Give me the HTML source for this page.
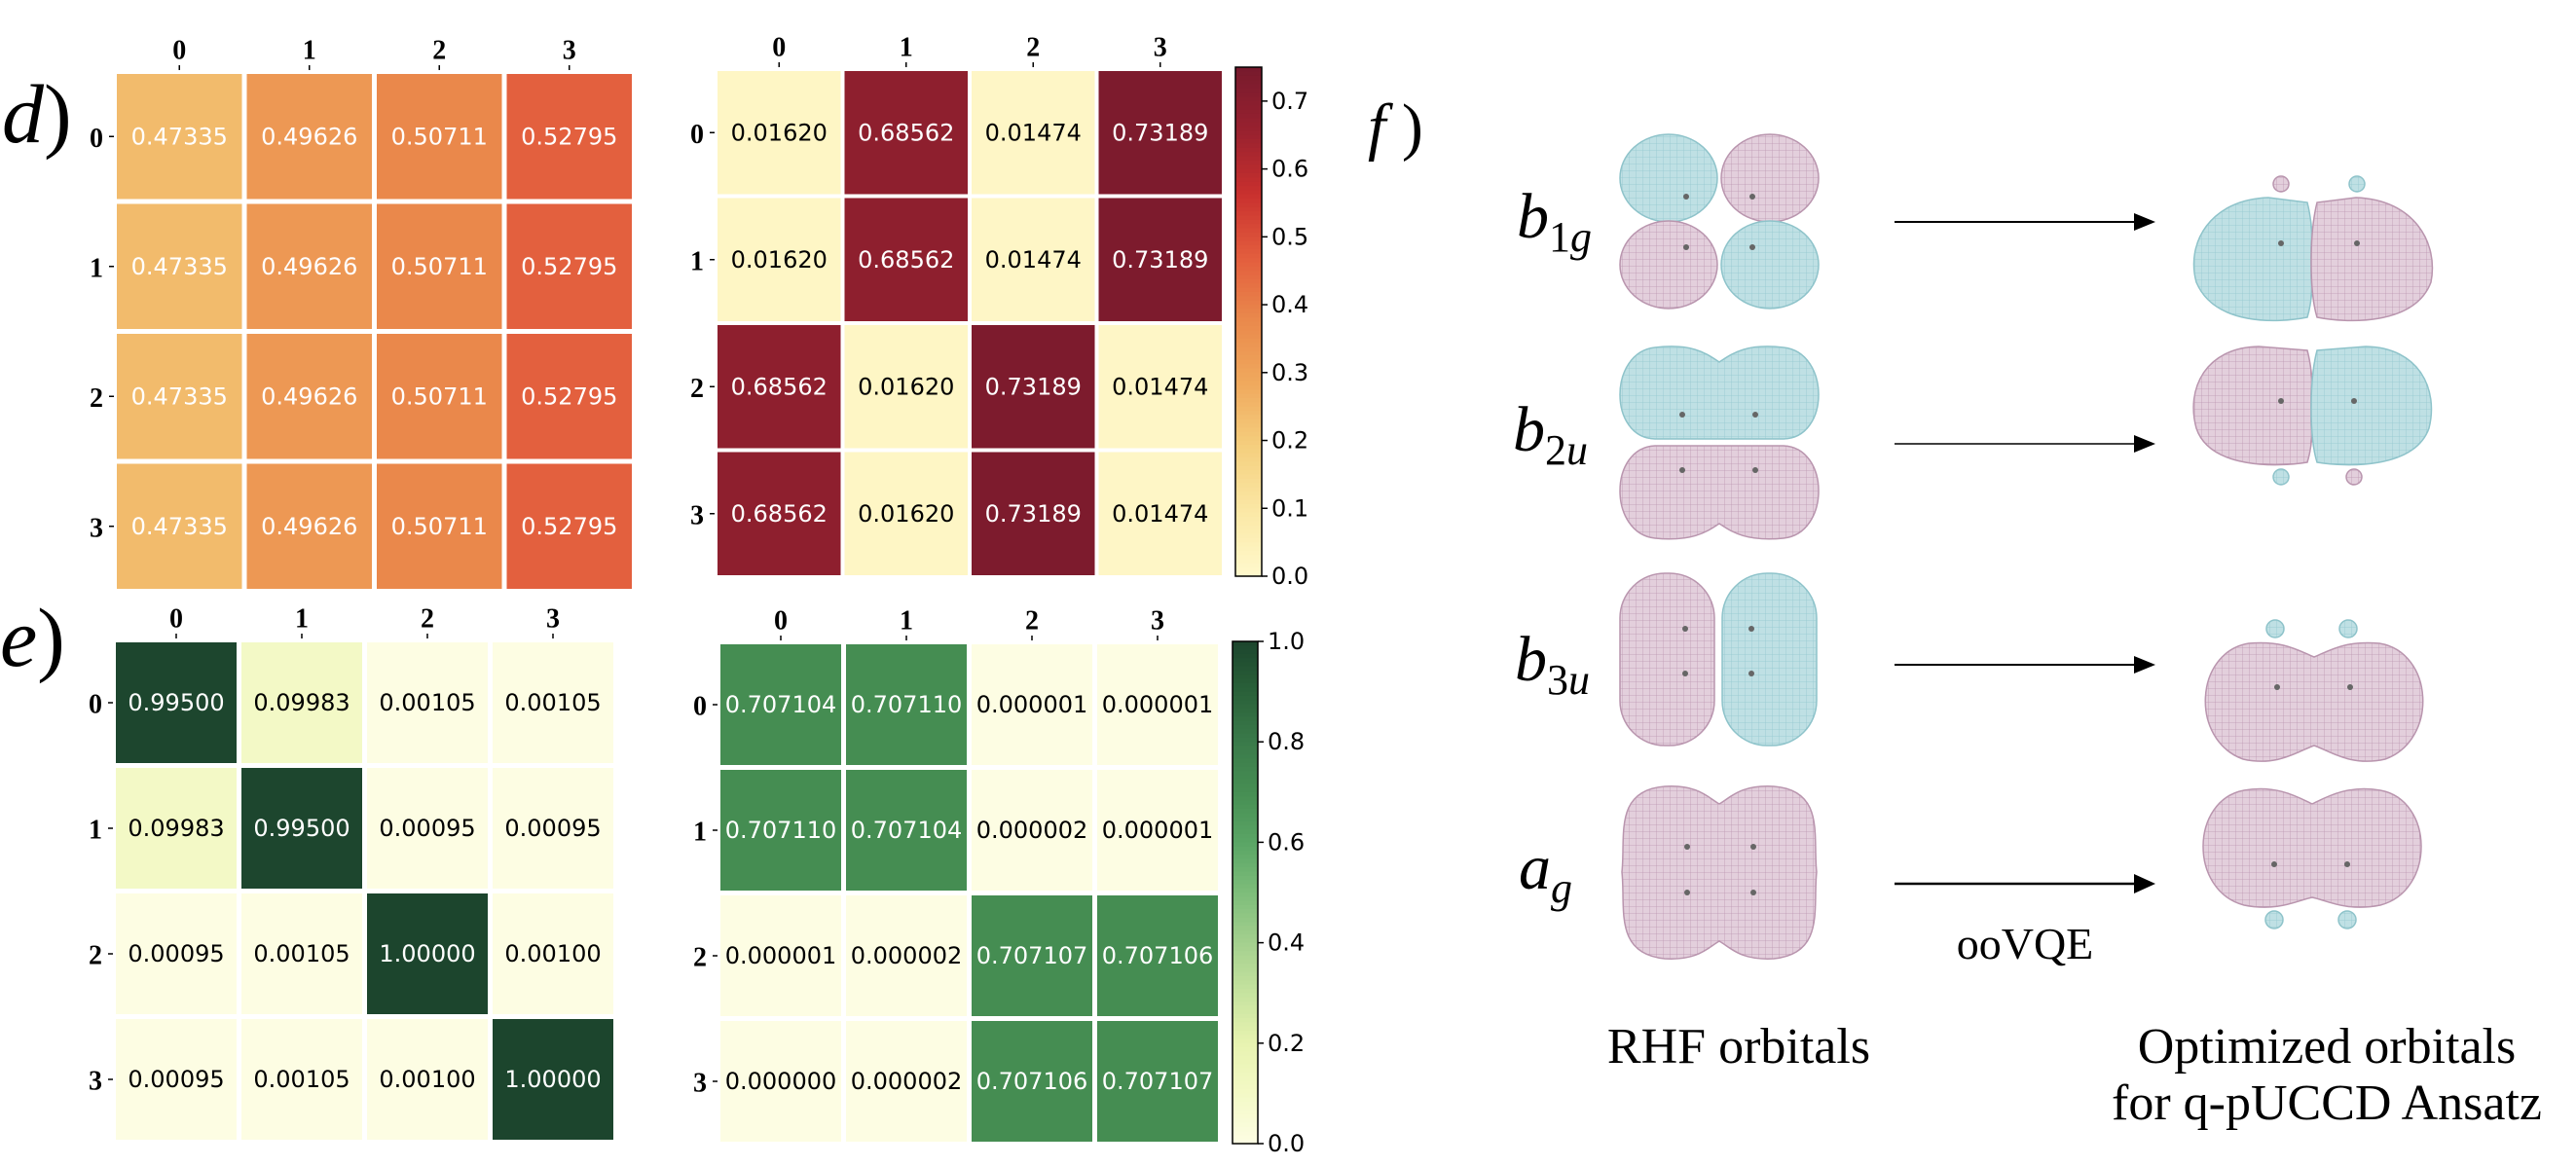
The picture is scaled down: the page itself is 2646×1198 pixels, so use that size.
<!DOCTYPE html>
<html><head><meta charset="utf-8"><style>
html,body{margin:0;padding:0;background:#fff;width:2646px;height:1198px;overflow:hidden}
svg{display:block}
.cell-t{font-family:"DejaVu Sans","Liberation Sans",sans-serif;font-size:24px;text-anchor:middle;dominant-baseline:central}
.axl{font-family:"Liberation Serif",serif;font-weight:bold;font-size:28px;text-anchor:middle;dominant-baseline:central}
.cbl{font-family:"DejaVu Sans","Liberation Sans",sans-serif;font-size:24px;dominant-baseline:central}
.serif{font-family:"Liberation Serif","DejaVu Serif",serif}
</style></head><body>
<svg id="fig" width="2646" height="1198" viewBox="0 0 2646 1198" xmlns="http://www.w3.org/2000/svg">
<defs>
<pattern id="meshT" width="7" height="7" patternUnits="userSpaceOnUse"><rect width="7" height="7" fill="#bfe0e4"/><path d="M0 0H7M0 0V7" stroke="#93c8cf" stroke-width="0.8"/></pattern>
<pattern id="meshP" width="7" height="7" patternUnits="userSpaceOnUse"><rect width="7" height="7" fill="#e3cfdc"/><path d="M0 0H7M0 0V7" stroke="#bd98b2" stroke-width="0.8"/></pattern>
</defs>
<g id="heatmaps"></g>

<text class="serif" x="2" y="146" font-size="86"><tspan font-style="italic">d</tspan>)</text>
<text class="serif" x="0" y="684" font-size="86"><tspan font-style="italic">e</tspan>)</text>
<text class="serif" x="1405" y="152" font-size="66"><tspan font-style="italic">f</tspan> )</text>

<g class="serif" font-style="italic">
<text x="1558" y="244" font-size="66">b<tspan font-size="44" dy="14" font-style="normal">1</tspan><tspan font-size="44">g</tspan></text>
<text x="1554" y="463" font-size="66">b<tspan font-size="44" dy="14" font-style="normal">2</tspan><tspan font-size="44">u</tspan></text>
<text x="1556" y="699" font-size="66">b<tspan font-size="44" dy="14" font-style="normal">3</tspan><tspan font-size="44">u</tspan></text>
<text x="1560" y="913" font-size="66">a<tspan font-size="44" dy="14">g</tspan></text>
</g>

<g stroke="#000">
<g><line x1="1946" y1="228" x2="2196" y2="228" stroke-width="2"/><polygon points="2192,219 2214,228 2192,237" fill="#000" stroke="none"/></g>
<g><line x1="1946" y1="456" x2="2196" y2="456" stroke-width="1.6"/><polygon points="2192,447 2214,456 2192,465" fill="#000" stroke="none"/></g>
<g><line x1="1946" y1="683" x2="2196" y2="683" stroke-width="2"/><polygon points="2192,674 2214,683 2192,692" fill="#000" stroke="none"/></g>
<g><line x1="1946" y1="908" x2="2196" y2="908" stroke-width="2.6"/><polygon points="2192,898 2214,908 2192,918" fill="#000" stroke="none"/></g>
</g>
<text class="serif" x="2080" y="985" font-size="46" text-anchor="middle">ooVQE</text>
<text class="serif" x="1786" y="1092" font-size="52" text-anchor="middle">RHF orbitals</text>
<text class="serif" x="2390" y="1092" font-size="52" text-anchor="middle">Optimized orbitals</text>
<text class="serif" x="2390" y="1150" font-size="52" text-anchor="middle">for q-pUCCD Ansatz</text>

<g stroke-width="1.5">
<g>
<ellipse cx="1714" cy="183" rx="50" ry="45" fill="url(#meshT)" stroke="#8ec3ca"/>
<ellipse cx="1818" cy="183" rx="50" ry="45" fill="url(#meshP)" stroke="#b995ae"/>
<ellipse cx="1714" cy="272" rx="50" ry="45" fill="url(#meshP)" stroke="#b995ae"/>
<ellipse cx="1818" cy="272" rx="50" ry="45" fill="url(#meshT)" stroke="#8ec3ca"/>
</g>
<g>
<path d="M1700 357 C1740 352 1755 365 1766 372 C1777 365 1792 352 1832 357 C1880 362 1880 450 1832 451 L1700 451 C1652 450 1652 362 1700 357Z" fill="url(#meshT)" stroke="#8ec3ca"/>
<path d="M1700 458 L1832 458 C1880 460 1880 548 1832 553 C1792 557 1777 545 1766 538 C1755 545 1740 557 1700 553 C1652 548 1652 460 1700 458Z" fill="url(#meshP)" stroke="#b995ae"/>
</g>
<g>
<rect x="1664" y="589" width="97" height="177" rx="46" fill="url(#meshP)" stroke="#b995ae"/>
<rect x="1769" y="589" width="97" height="177" rx="46" fill="url(#meshT)" stroke="#8ec3ca"/>
</g>
<g>
<path d="M1710 808 C1745 806 1755 820 1766 826 C1777 820 1787 806 1822 808 C1875 812 1862 860 1866 896 C1862 932 1875 980 1822 985 C1787 987 1777 973 1766 967 C1755 973 1745 987 1710 985 C1657 980 1670 932 1666 896 C1670 860 1657 812 1710 808Z" fill="url(#meshP)" stroke="#b995ae"/>
</g>
<g fill="#666">
<circle cx="1732" cy="202" r="3"/><circle cx="1800" cy="202" r="3"/><circle cx="1732" cy="254" r="3"/><circle cx="1800" cy="254" r="3"/>
<circle cx="1728" cy="426" r="3"/><circle cx="1803" cy="426" r="3"/><circle cx="1728" cy="483" r="3"/><circle cx="1803" cy="483" r="3"/>
<circle cx="1731" cy="646" r="3"/><circle cx="1799" cy="646" r="3"/><circle cx="1731" cy="692" r="3"/><circle cx="1799" cy="692" r="3"/>
<circle cx="1733" cy="870" r="3"/><circle cx="1801" cy="870" r="3"/><circle cx="1733" cy="917" r="3"/><circle cx="1801" cy="917" r="3"/>
</g>
</g>

<g stroke-width="1.5">
<g>
<path d="M2370 208 C2378 240 2378 300 2370 326 C2340 332 2275 335 2256 290 C2245 250 2270 205 2330 203 Z" fill="url(#meshT)" stroke="#8ec3ca"/>
<path d="M2380 208 C2372 240 2372 300 2380 326 C2410 332 2480 335 2497 290 C2505 250 2480 205 2420 203 Z" fill="url(#meshP)" stroke="#b995ae"/>
<circle cx="2343" cy="189" r="8" fill="url(#meshP)" stroke="#b995ae"/><circle cx="2421" cy="189" r="8" fill="url(#meshT)" stroke="#8ec3ca"/>
</g>
<g>
<path d="M2370 360 C2378 390 2378 450 2370 475 C2340 480 2270 482 2256 440 C2245 400 2265 357 2320 356 Z" fill="url(#meshP)" stroke="#b995ae"/>
<path d="M2380 360 C2372 390 2372 450 2380 475 C2410 480 2480 482 2495 440 C2505 400 2485 357 2430 356 Z" fill="url(#meshT)" stroke="#8ec3ca"/>
<circle cx="2343" cy="490" r="8" fill="url(#meshT)" stroke="#8ec3ca"/><circle cx="2418" cy="490" r="8" fill="url(#meshP)" stroke="#b995ae"/>
</g>
<g>
<path d="M2310 661 C2345 658 2360 668 2377 675 C2394 668 2409 658 2444 661 C2500 670 2505 760 2450 780 C2415 788 2394 772 2377 766 C2360 772 2339 788 2304 780 C2249 760 2254 670 2310 661Z" fill="url(#meshP)" stroke="#b995ae"/>
<circle cx="2337" cy="646" r="9" fill="url(#meshT)" stroke="#8ec3ca"/><circle cx="2412" cy="646" r="9" fill="url(#meshT)" stroke="#8ec3ca"/>
</g>
<g>
<path d="M2305 812 C2340 806 2362 820 2375 826 C2388 820 2410 806 2445 812 C2500 822 2502 915 2445 930 C2410 937 2390 925 2375 922 C2360 925 2340 937 2305 930 C2248 915 2250 822 2305 812Z" fill="url(#meshP)" stroke="#b995ae"/>
<circle cx="2336" cy="945" r="9" fill="url(#meshT)" stroke="#8ec3ca"/><circle cx="2411" cy="945" r="9" fill="url(#meshT)" stroke="#8ec3ca"/>
</g>
<g fill="#666">
<circle cx="2343" cy="250" r="3"/><circle cx="2421" cy="250" r="3"/>
<circle cx="2343" cy="412" r="3"/><circle cx="2418" cy="412" r="3"/>
<circle cx="2339" cy="706" r="3"/><circle cx="2414" cy="706" r="3"/>
<circle cx="2336" cy="888" r="3"/><circle cx="2411" cy="888" r="3"/>
</g>
</g>
</svg>
<script>
const NS = "http://www.w3.org/2000/svg";
const labelsRow = ["0","1","2","3"];
const labelsCol = ["0","1","2","3"];
const dLeftValues = [
 [0.47335,0.49626,0.50711,0.52795],
 [0.47335,0.49626,0.50711,0.52795],
 [0.47335,0.49626,0.50711,0.52795],
 [0.47335,0.49626,0.50711,0.52795]];
const dRightValues = [
 [0.01620,0.68562,0.01474,0.73189],
 [0.01620,0.68562,0.01474,0.73189],
 [0.68562,0.01620,0.73189,0.01474],
 [0.68562,0.01620,0.73189,0.01474]];
const eLeftValues = [
 [0.99500,0.09983,0.00105,0.00105],
 [0.09983,0.99500,0.00095,0.00095],
 [0.00095,0.00105,1.00000,0.00100],
 [0.00095,0.00105,0.00100,1.00000]];
const eRightValues = [
 [0.707104,0.707110,0.000001,0.000001],
 [0.707110,0.707104,0.000002,0.000001],
 [0.000001,0.000002,0.707107,0.707106],
 [0.000000,0.000002,0.707106,0.707107]];
const dTicks = [0,0.1,0.2,0.3,0.4,0.5,0.6,0.7];
const eTicks = [0,0.2,0.4,0.6,0.8,1.0];

const redStops = ["#fff9cc","#fbe8a6","#f5d07f","#f0aa5e","#ea8a4c","#e35e3e","#c9302e","#98212f","#771a2d"];
const greenStops = ["#fdfde3","#f3f9c6","#e7f3b0","#c6e39f","#a4d08e","#7dbd7a","#5aa565","#468e53","#3a7a4a","#2a6139","#1c452d"];
function hex(c){return [parseInt(c.slice(1,3),16),parseInt(c.slice(3,5),16),parseInt(c.slice(5,7),16)];}
function cmap(stops,t){
  t=Math.max(0,Math.min(1,t));
  const p=t*(stops.length-1), i=Math.min(stops.length-2,Math.floor(p)), f=p-i;
  const a=hex(stops[i]), b=hex(stops[i+1]);
  return "rgb("+a.map((v,k)=>Math.round(v+(b[k]-v)*f)).join(",")+")";
}
function lum(c){const m=c.match(/\d+/g).map(Number);return 0.299*m[0]+0.587*m[1]+0.114*m[2];}
const root = document.getElementById("heatmaps");
function mk(tag, attrs, parent){const e=document.createElementNS(NS,tag);for(const k in attrs)e.setAttribute(k,attrs[k]);(parent||root).appendChild(e);return e;}

function heatmap(name, vals, x0, y0, pitch, gap, colorFn, decimals, forceWhite){
  const g = mk("g",{});
  
  
  const cs = pitch-gap;
  labelsCol.forEach((lab,j)=>{
    const cx = x0 + j*pitch + cs/2;
    const t = mk("text",{x:cx,y:y0-24,"class":"axl"},g); t.textContent=lab;
    
    
    mk("line",{x1:cx,x2:cx,y1:y0-9,y2:y0-4,stroke:"#000","stroke-width":1.5},g);
  });
  labelsRow.forEach((lab,i)=>{
    const cy = y0 + i*pitch + cs/2;
    const t = mk("text",{x:x0-21,y:cy+2,"class":"axl"},g); t.textContent=lab;
    
    
    mk("line",{x1:x0-8,x2:x0-3,y1:cy,y2:cy,stroke:"#000","stroke-width":1.5},g);
  });
  vals.forEach((row,i)=>row.forEach((v,j)=>{
    const col = colorFn(v);
    const r = mk("rect",{x:x0+j*pitch,y:y0+i*pitch,width:cs,height:cs,fill:col},g);
    
    
    const white = forceWhite || lum(col) < 150;
    const t = mk("text",{x:x0+j*pitch+cs/2,y:y0+i*pitch+cs/2,"class":"cell-t",fill:white?"#fff":"#000"},g);
    t.textContent = v.toFixed(decimals);
    
    
  }));
}
function colorbar(name, x, yTop, yBot, w, vmax, stops, ticks){
  const g = mk("g",{});
  
  
  const n=120, h=(yBot-yTop)/n;
  for(let k=0;k<n;k++){
    const t=1-(k+0.5)/n;
    mk("rect",{x:x,y:yTop+k*h,width:w,height:h+0.6,fill:cmap(stops,t)},g);
  }
  mk("rect",{x:x,y:yTop,width:w,height:yBot-yTop,fill:"none",stroke:"#000","stroke-width":1.5},g);
  ticks.forEach(v=>{
    const y = yBot - v/vmax*(yBot-yTop);
    mk("line",{x1:x+w,x2:x+w+6,y1:y,y2:y,stroke:"#000","stroke-width":1.5},g);
    const t = mk("text",{x:x+w+10,y:y,"class":"cbl"},g);
    t.textContent = v.toFixed(1);
    
    
  });
}
const dVmax = 0.75, leftLo = 0.415, leftHi = 0.597;
heatmap("heatmap-d-left", dLeftValues, 120, 76, 133.5, 5, v=>cmap(redStops,(v-leftLo)/(leftHi-leftLo)), 5, true);
heatmap("heatmap-d-right", dRightValues, 737, 73, 130.5, 4, v=>cmap(redStops,v/dVmax), 5, false);
colorbar("colorbar-d", 1269, 69, 592, 27, dVmax, redStops, dTicks);
heatmap("heatmap-e-left", eLeftValues, 119, 660, 129, 5, v=>cmap(greenStops,v), 5, false);
heatmap("heatmap-e-right", eRightValues, 740, 662, 129, 5, v=>cmap(greenStops,v), 6, false);
colorbar("colorbar-e", 1266, 659, 1175, 26, 1.0, greenStops, eTicks);
</script>
</body></html>
